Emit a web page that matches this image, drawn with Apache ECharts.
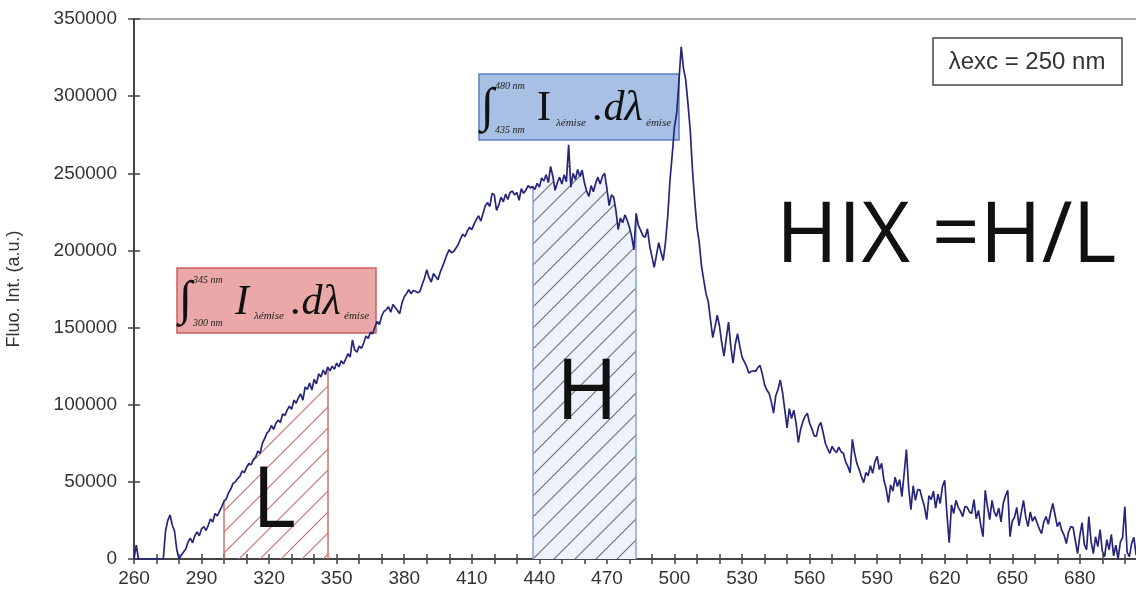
<!DOCTYPE html>
<html>
<head>
<meta charset="utf-8">
<script src="https://cdn.jsdelivr.net/npm/echarts@6/dist/echarts.min.js"></script>
<style>
html,body{margin:0;padding:0;background:#fff;}
#chart{width:1136px;height:598px;}
</style>
</head>
<body>
<div id="chart"></div>
<script>
// Emission spectrum, sampled every 1 nm starting at 260 nm
const wavelengthStart = 260;
const wavelengthStep = 1;
const intensity = [
  /*260*/ 0, 9000, 0, 0, 0, 0, 0, 0, 0, 0,
  /*270*/ 0, 0, 0, 0, 18000, 25000, 28500, 22000, 18000, 6000,
  /*280*/ 0, 2500, 4500, 6500, 11000, 13500, 10500, 15000, 17500, 15000,
  /*290*/ 19500, 21000, 18500, 22000, 26000, 24000, 29500, 28000, 31000, 34000,
  /*300*/ 37500, 39000, 43000, 45500, 49000, 50000, 52000, 53500, 57000, 56000,
  /*310*/ 59500, 62000, 61000, 64500, 66000, 70000, 68500, 75000, 78000, 81500,
  /*320*/ 83000, 86500, 84000, 88000, 90000, 88500, 94000, 93000, 96500, 99000,
  /*330*/ 97000, 103000, 101000, 104500, 107000, 103000, 111500, 110000, 114000, 109500,
  /*340*/ 116500, 113500, 120000, 118000, 122500, 119500, 124500, 122000, 125000, 123000,
  /*350*/ 127000, 124500, 128500, 126500, 129500, 133000, 131000, 142000, 135500, 134000,
  /*360*/ 138000, 136500, 140000, 144500, 143000, 147000, 146000, 150500, 154000, 152000,
  /*370*/ 157500, 160500, 161500, 163500, 160000, 165000, 163000, 161000, 159000, 166000,
  /*380*/ 170000, 172000, 174500, 172000, 174000, 173500, 172500, 173500, 178000, 182000,
  /*390*/ 187500, 182500, 179500, 185000, 183000, 181000, 186000, 189500, 193500, 197500,
  /*400*/ 200500, 198500, 199500, 201500, 204000, 207500, 210500, 209000, 212500, 215000,
  /*410*/ 213500, 217000, 220000, 222500, 219000, 224000, 229000, 231000, 228500, 237000,
  /*420*/ 236000, 226000, 229500, 234500, 231500, 236500, 233000, 237500, 238500, 236000,
  /*430*/ 237500, 232500, 240000, 237000, 239000, 242000, 240500, 241500, 239500, 243500,
  /*440*/ 241000, 247000, 245000, 249000, 244000, 254500, 248000, 239000, 244000, 247500,
  /*450*/ 243000, 249000, 244500, 268500, 241000, 250000, 246000, 252500, 248000, 252000,
  /*460*/ 244000, 238500, 235000, 242000, 238000, 243500, 247500, 243000, 248000, 250000,
  /*470*/ 240000, 229000, 236000, 234500, 226000, 213500, 221000, 218000, 223000, 219500,
  /*480*/ 215000, 209000, 200500, 224000, 216000, 213000, 209500, 208500, 214000, 203000,
  /*490*/ 196000, 189000, 197000, 205000, 199000, 193500, 205000, 222000, 245500, 262000,
  /*500*/ 280000, 289000, 310000, 332000, 318000, 310500, 295000, 278000, 252000, 232000,
  /*510*/ 215000, 205000, 190000, 180800, 172000, 166800, 155000, 143500, 150500, 158000,
  /*520*/ 151000, 140000, 131500, 143000, 153500, 138000, 127000, 139000, 146000, 138000,
  /*530*/ 131000, 128000, 125000, 120500, 121500, 122000, 121500, 124000, 125500, 120000,
  /*540*/ 113000, 109500, 107500, 102000, 94500, 106000, 110000, 116000, 108000, 96500,
  /*550*/ 85000, 97500, 91000, 96500, 88000, 75500, 84000, 89000, 92500, 94500,
  /*560*/ 88000, 84500, 80000, 79500, 86000, 88500, 82000, 75000, 71500, 68500,
  /*570*/ 73000, 70500, 69000, 72500, 69500, 68500, 63000, 60000, 56000, 77500,
  /*580*/ 68500, 62000, 58000, 53500, 49500, 56000, 54000, 60500, 55500, 63000,
  /*590*/ 66500, 58000, 62000, 51000, 45500, 36500, 48000, 44000, 53000, 47000,
  /*600*/ 51500, 40500, 55500, 71000, 46000, 32000, 47500, 38000, 45000, 44800,
  /*610*/ 39000, 34000, 25500, 41000, 38500, 44000, 33000, 42000, 36000, 47000,
  /*620*/ 51000, 29000, 10500, 35000, 29500, 38000, 33500, 31000, 27500, 34000,
  /*630*/ 33500, 30500, 29500, 38500, 26000, 31500, 22000, 14500, 44500, 34000,
  /*640*/ 25500, 38000, 30500, 27500, 33000, 24000, 36000, 41000, 44500, 14500,
  /*650*/ 24500, 27000, 33500, 21500, 30000, 38000, 27000, 21000, 30500, 24500,
  /*660*/ 27500, 23500, 19500, 16500, 24000, 27500, 22500, 30000, 36000, 28500,
  /*670*/ 21000, 24000, 18500, 15500, 10000, 17500, 21000, 20500, 12000, 3500,
  /*680*/ 15000, 23500, 9500, 6000, 27500, 11500, 3500, 14500, 8000, 19000,
  /*690*/ 5000, 1500, 12500, 6000, 16000, 2000, 9000, 0, 11000, 14000,
  /*700*/ 34000, 4500, 1500, 10000, 14000, 2500, 6000
];

// Integration bands (nm)
const lowBand = [300, 346];
const highBand = [437, 483];

// Axes
const xMin = 260, xMax = 708.5, xTickStep = 10, xLabelStep = 30;
const yMin = 0, yMax = 350000, yStep = 50000;

// Texts
const yAxisTitle = 'Fluo. Int. (a.u.)';
const excitationText = 'λexc = 250 nm';
const hixText = 'HIX =H/L';
const lowLetter = 'L';
const highLetter = 'H';
const lowLimits = ['345 nm', '300 nm'];
const highLimits = ['480 nm', '435 nm'];
const subscriptA = 'λémise';
const subscriptB = 'émise';

// ---- build series data ----
const spectrum = intensity.map((v, i) => [wavelengthStart + i * wavelengthStep, v]);
const inBand = (b) => spectrum.filter(p => p[0] >= b[0] && p[0] <= b[1]);
const valAt = (x) => { const p = spectrum.find(q => q[0] === x); return p ? p[1] : 0; };

function hatchPattern(bg, fg, size) {
  const c = document.createElement('canvas');
  c.width = size; c.height = size;
  const ctx = c.getContext('2d');
  if (bg) { ctx.fillStyle = bg; ctx.fillRect(0, 0, size, size); }
  ctx.strokeStyle = fg; ctx.lineWidth = 1.1;
  ctx.beginPath();
  ctx.moveTo(-1, size + 1); ctx.lineTo(size + 1, -1);
  ctx.moveTo(-1, 1); ctx.lineTo(1, -1);
  ctx.moveTo(size - 1, size + 1); ctx.lineTo(size + 1, size - 1);
  ctx.stroke();
  return c;
}

function bandSeries(band, pattern, edgeColor) {
  return {
    type: 'line',
    data: inBand(band),
    showSymbol: false,
    silent: true,
    z: 1,
    lineStyle: { width: 0, opacity: 0 },
    areaStyle: { color: { image: pattern, repeat: 'repeat' }, opacity: 1 },
    markLine: {
      silent: true,
      symbol: 'none',
      label: { show: false },
      lineStyle: { color: edgeColor, width: 1.5, type: 'solid' },
      data: [
        [{ coord: [band[0], 0] }, { coord: [band[0], valAt(band[0])] }],
        [{ coord: [band[1], 0] }, { coord: [band[1], valAt(band[1])] }]
      ]
    }
  };
}

const chart = echarts.init(document.getElementById('chart'), null, { renderer: 'canvas' });

const labelFont = { fontFamily: 'Liberation Sans, Arial, sans-serif', fontSize: 19, color: '#333' };
const axisLineStyle = { color: '#444', width: 2 };
const serif = 'Liberation Serif, Times New Roman, serif';

const gridLeft = 134, gridTop = 19, gridRight = -8, gridBottom = 39;
const gridW = 1136 - gridLeft - gridRight;
const gridH = 598 - gridTop - gridBottom;

function formulaBox(x, y, w, h, fill, stroke, limits, uprightI) {
  return [
    { type: 'rect', shape: { x: x, y: y, width: w, height: h }, style: { fill: fill, stroke: stroke, lineWidth: 1.5 }, z: 10 },
    { type: 'text', x: x + 2, y: y + h / 2 + 1, z: 11, style: { text: '∫', font: '48px ' + serif, fill: '#111', verticalAlign: 'middle', align: 'left' } },
    { type: 'text', x: x + 16, y: y + 12, z: 11, style: { text: limits[0], font: 'italic 10px ' + serif, fill: '#222', verticalAlign: 'middle' } },
    { type: 'text', x: x + 16, y: y + h - 10, z: 11, style: { text: limits[1], font: 'italic 10px ' + serif, fill: '#222', verticalAlign: 'middle' } },
    { type: 'text', x: x + 58, y: y + h / 2 + 2, z: 11, style: { text: 'I', font: (uprightI ? '' : 'italic ') + '42px ' + serif, fill: '#111', verticalAlign: 'middle' } },
    { type: 'text', x: x + 77, y: y + h / 2 + 16, z: 11, style: { text: subscriptA, font: 'italic 11px ' + serif, fill: '#222', verticalAlign: 'middle' } },
    { type: 'text', x: x + 114, y: y + h / 2 + 2, z: 11, style: { text: '.dλ', font: 'italic 42px ' + serif, fill: '#111', verticalAlign: 'middle' } },
    { type: 'text', x: x + 167, y: y + h / 2 + 16, z: 11, style: { text: subscriptB, font: 'italic 11px ' + serif, fill: '#222', verticalAlign: 'middle' } }
  ];
}

const bigFont = '84px Open Sans, Calibri, sans-serif';

const option = {
  animation: false,
  backgroundColor: '#fff',
  grid: { left: gridLeft, top: gridTop, right: gridRight, bottom: gridBottom, outerBoundsMode: 'none', containLabel: false,
          show: true, borderColor: '#aaa', borderWidth: 2, backgroundColor: 'transparent' },
  xAxis: [
    {
      type: 'value', position: 'bottom', min: xMin, max: xMax, interval: xTickStep,
      axisLine: { show: true, onZero: false, lineStyle: axisLineStyle },
      axisTick: { show: true, inside: true, length: 5, lineStyle: { color: '#444', width: 1.5 } },
      axisLabel: Object.assign({ margin: 10, showMaxLabel: false,
        formatter: v => ((v - xMin) % xLabelStep === 0 ? String(v) : '') }, labelFont),
      splitLine: { show: false }
    },
    {
      type: 'value', position: 'top', offset: -gridH, min: xMin, max: xMax, interval: xTickStep,
      axisLine: { show: false },
      axisTick: { show: true, inside: true, length: 5, lineStyle: { color: '#444', width: 1.5 } },
      axisLabel: { show: false },
      splitLine: { show: false }
    }
  ],
  yAxis: [
    {
      type: 'value', position: 'left', min: yMin, max: yMax, interval: yStep,
      axisLine: { show: true, onZero: false, lineStyle: axisLineStyle },
      axisTick: { show: true, inside: true, length: 6, lineStyle: { color: '#444', width: 1.5 } },
      axisLabel: Object.assign({ margin: 17, formatter: v => String(v) }, labelFont),
      splitLine: { show: false }
    },
    {
      type: 'value', position: 'right', offset: -gridW, min: yMin, max: yMax, interval: yStep,
      axisLine: { show: false },
      axisTick: { show: true, inside: true, length: 6, lineStyle: { color: '#444', width: 1.5 } },
      axisLabel: { show: false },
      splitLine: { show: false }
    }
  ],
  series: [
    bandSeries(lowBand, hatchPattern(null, '#c86a6a', 21), '#d96a6a'),
    bandSeries(highBand, hatchPattern('#eef2fa', '#6e6e78', 21), '#86a3e0'),
    {
      type: 'line',
      data: spectrum,
      showSymbol: false,
      z: 20,
      lineStyle: { color: '#25257c', width: 1.7 },
      silent: true
    }
  ],
  graphic: [
    { type: 'text', x: 14, y: 289, rotation: Math.PI / 2, z: 10,
      style: { text: yAxisTitle, font: '18px Liberation Sans, Arial, sans-serif', fill: '#333', align: 'center', verticalAlign: 'middle' } },
    { type: 'rect', shape: { x: 933, y: 38, width: 189, height: 47 }, style: { fill: '#fff', stroke: '#444', lineWidth: 1.5 }, z: 10 },
    { type: 'text', x: 1027, y: 62, z: 11, style: { text: excitationText, font: '24px Liberation Sans, Arial, sans-serif', fill: '#333', align: 'center', verticalAlign: 'middle' } },
    { type: 'text', x: 776, y: 238, z: 11, style: { text: hixText, font: bigFont, fill: '#111', align: 'left', verticalAlign: 'middle' } },
    { type: 'text', x: 556, y: 395, z: 11, style: { text: highLetter, font: bigFont, fill: '#111', align: 'left', verticalAlign: 'middle' } },
    { type: 'text', x: 252, y: 503, z: 11, style: { text: lowLetter, font: bigFont, fill: '#111', align: 'left', verticalAlign: 'middle' } }
  ]
    .concat(formulaBox(177, 268, 199, 65, '#eaa8a8', '#d05c5c', lowLimits, false))
    .concat(formulaBox(479, 74, 200, 66, '#a8c0e4', '#5b7fc4', highLimits, true))
};

chart.setOption(option);
</script>
</body>
</html>
